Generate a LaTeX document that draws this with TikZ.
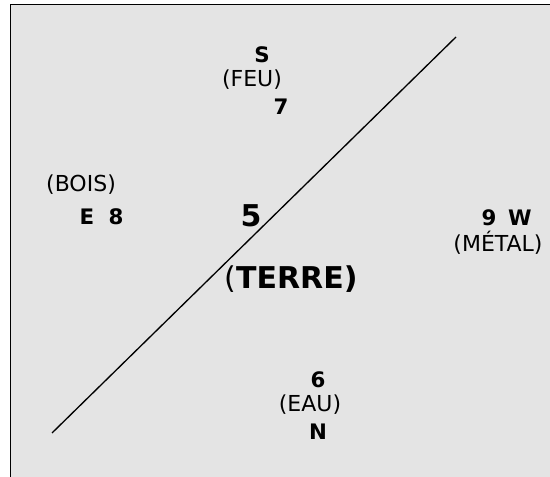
\documentclass[tikz,border=0pt]{standalone}
\usepackage{fontspec}
\setmainfont{DejaVu Sans}
\definecolor{bg}{HTML}{E4E4E4}
\begin{document}
\begin{tikzpicture}[x=0.75pt,y=-0.75pt,
  lab/.style={inner sep=0pt,font=\fontsize{16.5}{19}\selectfont},
  blab/.style={inner sep=0pt,font=\fontsize{16}{19}\selectfont\bfseries},
  big/.style={inner sep=0pt,font=\fontsize{22.5}{27}\selectfont\bfseries}]
\useasboundingbox (0,0) rectangle (550,477);
\fill[bg] (10.5,4.5) rectangle (550,477);
\draw[line width=1.4pt] (10.5,477) -- (10.5,4.5) -- (550,4.5);
\coordinate (l1) at (52,433);
\coordinate (l2) at (456,37);
\draw[line width=1pt] (l1) -- (l2);
\node[blab] (s) at (262,55) {S};
\node[lab] (feu) at (252,80) {(FEU)};
\node[blab] (n7) at (281,107) {7};
\node[lab] (bois) at (81,185) {(BOIS)};
\node[blab] (e) at (87,217) {E};
\node[blab] (n8) at (116,217) {8};
\node[big] (n5) at (251,216) {5};
\node[big] (terre) at (291,279) {\mdseries(\bfseries TERRE)};
\node[blab] (n9) at (489,218) {9};
\node[blab] (w) at (520,218) {W};
\node[lab] (metal) at (498,243) {(MÉTAL)};
\node[blab] (n6) at (318,380) {6};
\node[lab] (eau) at (310,405) {(EAU)};
\node[blab] (n) at (318,432) {N};
\end{tikzpicture}
\end{document}
